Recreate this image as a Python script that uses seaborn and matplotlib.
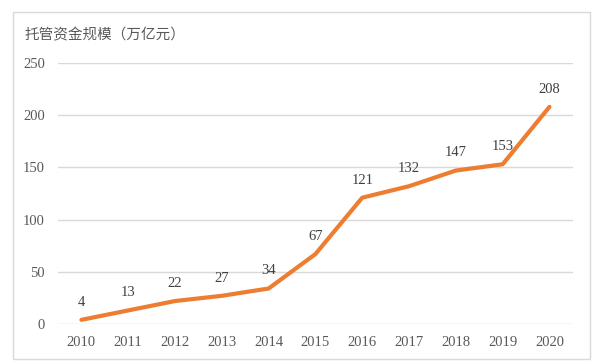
import matplotlib
matplotlib.use("Agg")
import matplotlib.pyplot as plt
import seaborn as sns
import pandas as pd
from matplotlib.patches import Rectangle

years = ["2010", "2011", "2012", "2013", "2014", "2015", "2016", "2017", "2018", "2019", "2020"]
values = [4, 13, 22, 27, 34, 67, 121, 132, 147, 153, 208]
title = "托管资金规模（万亿元）"

sns.set_theme(style="white")
plt.rcParams['font.family'] = ['Liberation Serif', 'Noto Sans CJK SC', 'DejaVu Sans']

df = pd.DataFrame({"year": years, "value": values})
df["pos"] = range(len(years))

fig = plt.figure(figsize=(6.14, 3.64), dpi=100)
ax = fig.add_axes([0.0945, 0.1099, 0.8385, 0.717])
text_color = "#595959"

sns.lineplot(data=df, x="pos", y="value", ax=ax, color="#ED7D31", linewidth=3, solid_capstyle="round")

ax.set_xlim(-0.5, len(years) - 0.5)
ax.set_ylim(0, 250)
ax.set_yticks([0, 50, 100, 150, 200, 250])
ax.set_xticks(df["pos"])
ax.set_xticklabels(years)
ax.grid(axis="y", color="#d9d9d9", linewidth=1)
ax.grid(axis="x", visible=False)
for s in ax.spines.values():
    s.set_visible(False)
ax.tick_params(axis="both", length=0, labelsize=10.5, colors=text_color)
ax.tick_params(axis="x", pad=9)
ax.tick_params(axis="y", pad=9.5)
ax.set_xlabel("")
ax.set_ylabel("")

for p, v in zip(df["pos"], df["value"]):
    ax.annotate(str(v), (p, v), xytext=(0, 8), textcoords="offset points",
                ha="center", va="bottom", fontsize=10.5, color="#404040")

fig.text(25 / 614, 1 - 35 / 364, title, fontsize=10.5, color=text_color,
         family=['Noto Sans CJK SC', 'DejaVu Sans'], va="center", ha="left")

fig.patches.append(Rectangle((13 / 614, 5 / 364), 577 / 614, 347 / 364,
                             transform=fig.transFigure, fill=False,
                             edgecolor="#d9d9d9", linewidth=1))

fig.savefig("out.png", dpi=100)
